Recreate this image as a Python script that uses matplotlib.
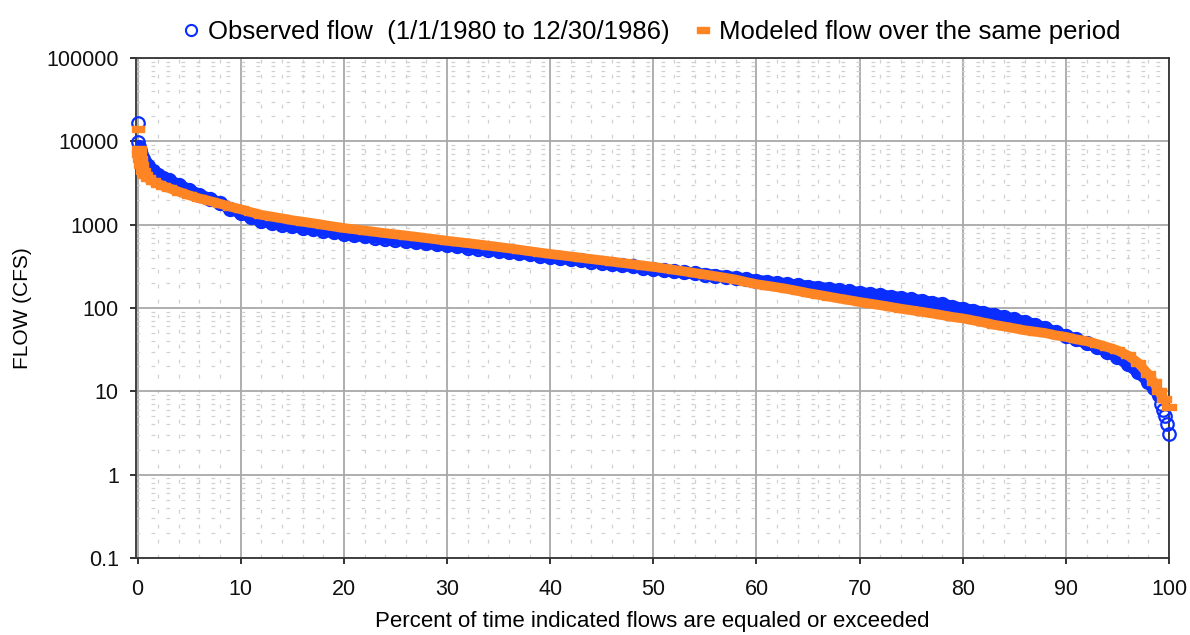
import numpy as np
import matplotlib.pyplot as plt
from matplotlib.lines import Line2D
from matplotlib.ticker import FixedLocator, MultipleLocator, LogLocator, NullFormatter, FuncFormatter

plt.rcParams['font.family'] = ['Liberation Sans', 'DejaVu Sans']

# flow duration curves (percent exceeded, flow in cfs)
obs_pct = [0.1, 0.2, 0.3, 0.5, 0.7, 1, 1.5, 2, 2.5, 3, 4, 5, 6, 7, 8, 9,
           10, 11, 12, 13, 14, 15, 16, 17, 18, 19, 20, 21, 22, 23, 24, 25, 26, 27, 28, 29,
           30, 31, 32, 33, 34, 35, 36, 37, 38, 39, 40, 41, 42, 43, 44, 45, 46, 47, 48, 49,
           50, 51, 52, 53, 54, 55, 56, 57, 58, 59, 60, 61, 62, 63, 64, 65, 66, 67, 68, 69,
           70, 71, 72, 73, 74, 75, 76, 77, 78, 79, 80, 81, 82, 83, 84, 85, 86, 87, 88, 89,
           90, 91, 92, 93, 94, 95, 96, 97, 98, 98.5, 99]
obs_flow = [8500, 7600, 6900, 6100, 5500, 5000, 4400, 3950, 3650, 3400, 3000, 2600, 2280, 2030, 1800, 1560,
            1380, 1230, 1110, 1050, 1000, 960, 920, 880, 845, 810, 775, 750, 725, 700, 680, 660, 640, 620, 600, 585,
            570, 550, 530, 515, 500, 485, 470, 455, 440, 424, 408, 396, 384, 372, 361, 350, 338, 327, 316, 305,
            294, 285, 276, 268, 260, 252, 245, 237, 229, 221, 213, 206, 199, 193, 187, 181, 175, 170, 164, 158,
            152, 147, 142, 137, 132, 127, 122, 116, 111, 104, 98, 93, 88, 83, 78, 73, 68, 63, 57, 51,
            46, 42, 38, 34, 30, 26, 21, 17, 13, 11, 9]
obs_peak_pct = [0.04, 0.08]
obs_peak_flow = [16400, 9800]
obs_tail_pct = [99.2, 99.4, 99.6, 99.8, 99.96]
obs_tail_flow = [7.0, 6.0, 5.0, 4.1, 3.1]

mod_pct = [0.1, 0.15, 0.2, 0.3, 0.5, 0.7, 1, 1.5, 2, 2.5, 3, 4, 5, 6, 7, 8, 9,
           10, 11, 12, 13, 14, 15, 16, 17, 18, 19, 20, 21, 22, 23, 24, 25, 26, 27, 28, 29,
           30, 31, 32, 33, 34, 35, 36, 37, 38, 39, 40, 41, 42, 43, 44, 45, 46, 47, 48, 49,
           50, 51, 52, 53, 54, 55, 56, 57, 58, 59, 60, 61, 62, 63, 64, 65, 66, 67, 68, 69,
           70, 71, 72, 73, 74, 75, 76, 77, 78, 79, 80, 81, 82, 83, 84, 85, 86, 87, 88, 89,
           90, 91, 92, 93, 94, 95, 96, 97, 98, 98.5, 99, 99.5, 100]
mod_flow = [8000, 7000, 6200, 5200, 4400, 3950, 3600, 3300, 3100, 2900, 2750, 2480, 2250, 2060, 1920, 1780, 1640,
            1530, 1410, 1310, 1250, 1190, 1130, 1085, 1040, 995, 950, 910, 880, 850, 820, 790, 765, 740, 715, 690, 665,
            640, 620, 600, 580, 560, 540, 520, 500, 480, 462, 445, 430, 415, 400, 386, 373, 360, 347, 335, 323,
            312, 299, 287, 275, 263, 252, 241, 230, 219, 205, 193, 185, 177, 169, 160, 151, 144, 137, 130, 124,
            118, 113, 108, 103, 98, 94, 90, 86, 82, 78, 75, 71, 67, 63, 60, 57, 54, 52, 50, 47,
            45, 42, 40, 37, 34, 31, 27, 22, 16, 13, 10, 8, 6.5]
mod_peak_pct = [0.04]
mod_peak_flow = [13900]

x_ticks = [0, 10, 20, 30, 40, 50, 60, 70, 80, 90, 100]
y_ticks = [0.1, 1, 10, 100, 1000, 10000, 100000]

blue = '#0A2EFF'
orange = '#FF8524'
rect = [(-1, -0.5), (1, -0.5), (1, 0.5), (-1, 0.5), (-1, -0.5)]

fig = plt.figure(figsize=(11.9, 6.35), dpi=100)
ax = fig.add_axes([0.1139, 0.1213, 0.8685, 0.7874])

# observed: thick band + rings
ax.plot(obs_pct, obs_flow, color=blue, lw=8.5, solid_capstyle='round', solid_joinstyle='round', zorder=3)
ax.plot(obs_pct, obs_flow, 'o', mfc='none', mec=blue, ms=9, mew=2, zorder=3)
ax.plot(obs_peak_pct, obs_peak_flow, 'o', mfc='none', mec=blue, ms=9, mew=1.6, zorder=3, clip_on=False)
ax.plot(obs_tail_pct, obs_tail_flow, 'o', mfc='none', mec=blue, ms=9, mew=1.6, zorder=3, clip_on=False)

# modeled: orange band of dash markers
ax.plot(mod_pct, mod_flow, color=orange, lw=7, solid_capstyle='butt', solid_joinstyle='round', zorder=4)
ax.plot(mod_pct, mod_flow, ls='none', marker=rect, color=orange, ms=10, zorder=4, clip_on=False)
ax.plot(mod_peak_pct, mod_peak_flow, ls='none', marker=rect, color=orange, ms=9, zorder=4, clip_on=False)

ax.set_yscale('log')
ax.set_ylim(0.1, 100000)
ax.set_xlim(-0.2, 100)
ax.yaxis.set_major_locator(FixedLocator(y_ticks))
ax.yaxis.set_major_formatter(FuncFormatter(lambda v, p: '%g' % v))
ax.yaxis.set_minor_locator(LogLocator(base=10, subs=[2, 3, 4, 5, 6, 7, 8, 9]))
ax.yaxis.set_minor_formatter(NullFormatter())
ax.xaxis.set_major_locator(FixedLocator(x_ticks))
ax.xaxis.set_minor_locator(MultipleLocator(2))

ax.grid(True, which='major', color='#A8A8A8', lw=1.3, zorder=0)
ax.grid(True, which='minor', color='#D0D0D0', lw=0.9, ls=(0, (3, 9)), zorder=0)
ax.set_axisbelow(True)

ax.tick_params(which='major', direction='out', length=4, width=1.2, labelsize=15.5, colors='#111111')
ax.tick_params(axis='x', pad=11)
ax.tick_params(axis='y', pad=8)
ax.tick_params(which='minor', length=0)
for sp in ax.spines.values():
    sp.set_color('#333333')
    sp.set_linewidth(1.3)

ax.set_xlabel('Percent of time indicated flows are equaled or exceeded', fontsize=16, labelpad=8)
ax.set_ylabel('FLOW (CFS)', fontsize=15, labelpad=10)

handles = [Line2D([], [], ls='none', marker='o', mfc='none', mec=blue, ms=8, mew=1.5),
           Line2D([], [], ls='none', marker=rect, color=orange, ms=9)]
fig.legend(handles, ['Observed flow  (1/1/1980 to 12/30/1986)', 'Modeled flow over the same period'],
           loc='upper center', bbox_to_anchor=(0.548, 1.005), ncol=2, frameon=False, fontsize=18.5,
           handlelength=0.6, handletextpad=0.35, columnspacing=1.0)

fig.savefig('out.png', dpi=100)
